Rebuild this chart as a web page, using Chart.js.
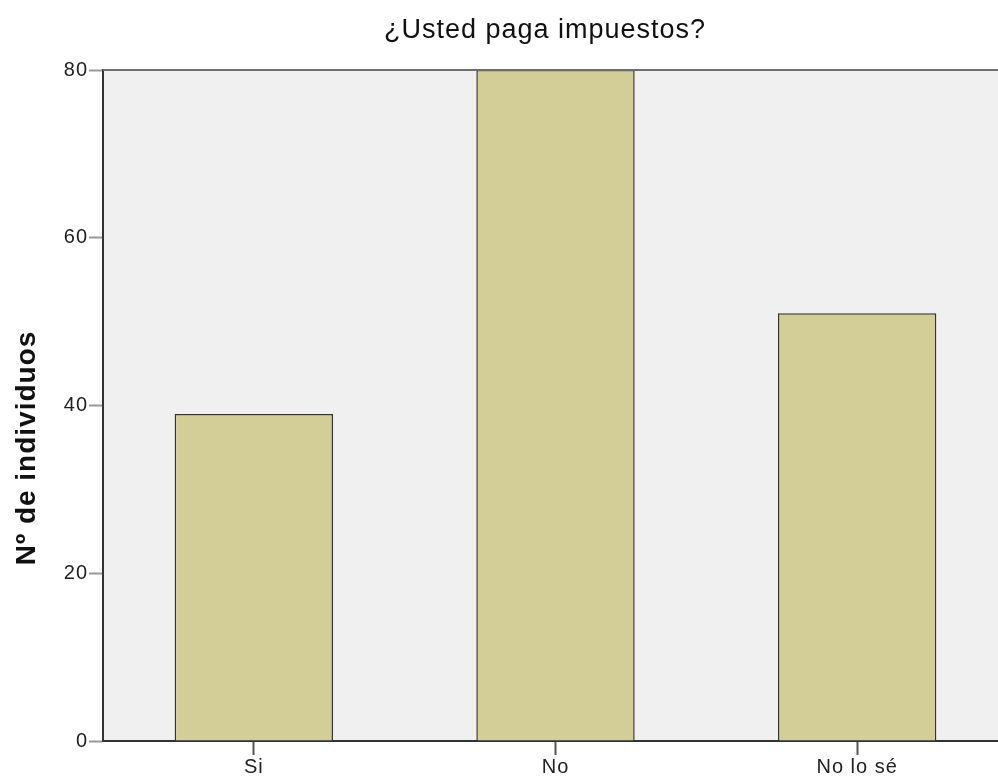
<!DOCTYPE html>
<html>
<head>
<meta charset="utf-8">
<script src="https://cdn.jsdelivr.net/npm/chart.js@4/dist/chart.umd.min.js"></script>
<style>
  html, body { margin: 0; padding: 0; background: #fff; overflow: hidden; }
  #wrap { width: 1010px; height: 779px; position: relative; }
</style>
</head>
<body>
<div id="wrap"><canvas id="chart"></canvas></div>
<script>
// --- DATA ---
const categories = ['Si', 'No', 'No lo sé'];
const counts = [39, 80, 51];
const yTicks = [0, 20, 40, 60, 80];
const chartTitle = '¿Usted paga impuestos?';
const yTitle = 'Nº de individuos';

const FONT = '"Liberation Sans", Arial, sans-serif';

// plot background, top frame line, titles (drawn by hand)
const framePlugin = {
    id: 'frame',
    beforeDraw(chart) {
        const { ctx, chartArea: a } = chart;
        ctx.letterSpacing = '1px';
        ctx.save();
        ctx.fillStyle = '#f0f0f0';
        ctx.fillRect(a.left, a.top, a.right - a.left, a.bottom - a.top);
        ctx.restore();
    },
    afterDraw(chart) {
        const { ctx, chartArea: a } = chart;
        ctx.save();
        ctx.strokeStyle = '#6e6e6e';
        ctx.lineWidth = 2;
        ctx.beginPath();
        ctx.moveTo(a.left, a.top);
        ctx.lineTo(a.right, a.top);
        ctx.stroke();

        ctx.fillStyle = '#111';
        ctx.textAlign = 'center';
        ctx.textBaseline = 'alphabetic';
        ctx.font = '27px ' + FONT;
        ctx.letterSpacing = '1px';
        ctx.fillText(chartTitle, 545, 38);

        ctx.translate(35, 448);
        ctx.rotate(-Math.PI / 2);
        ctx.font = 'bold 28px ' + FONT;
        ctx.letterSpacing = '1px';
        ctx.fillText(yTitle, 0, 0);
        ctx.restore();
    }
};

new Chart(document.getElementById('chart'), {
    type: 'bar',
    data: {
        labels: categories,
        datasets: [{
            data: counts,
            backgroundColor: '#d3ce98',
            borderColor: '#333',
            borderWidth: 1.5,
            barPercentage: 0.525,
            categoryPercentage: 1
        }]
    },
    options: {
        responsive: true,
        maintainAspectRatio: false,
        animation: false,
        layout: { padding: { top: 70, right: 2, bottom: 0, left: 0 } },
        plugins: {
            legend: { display: false },
            tooltip: { enabled: false }
        },
        scales: {
            x: {
                grid: { display: true, drawOnChartArea: false, offset: false, tickLength: 14, tickColor: '#555', tickWidth: 2 },
                border: { display: true, color: '#333', width: 2 },
                ticks: { color: '#222', font: { family: FONT, size: 20 }, padding: 0 }
            },
            y: {
                min: yTicks[0],
                max: yTicks[yTicks.length - 1],
                afterBuildTicks(scale) { scale.ticks = yTicks.map(v => ({ value: v })); },
                afterFit(scale) { scale.width = 103; },
                grid: { display: true, drawOnChartArea: false, tickLength: 14, tickColor: '#999', tickWidth: 2 },
                border: { display: true, color: '#333', width: 2 },
                ticks: { color: '#222', font: { family: FONT, size: 20 }, padding: 1 }
            }
        }
    },
    plugins: [framePlugin]
});
</script>
</body>
</html>
